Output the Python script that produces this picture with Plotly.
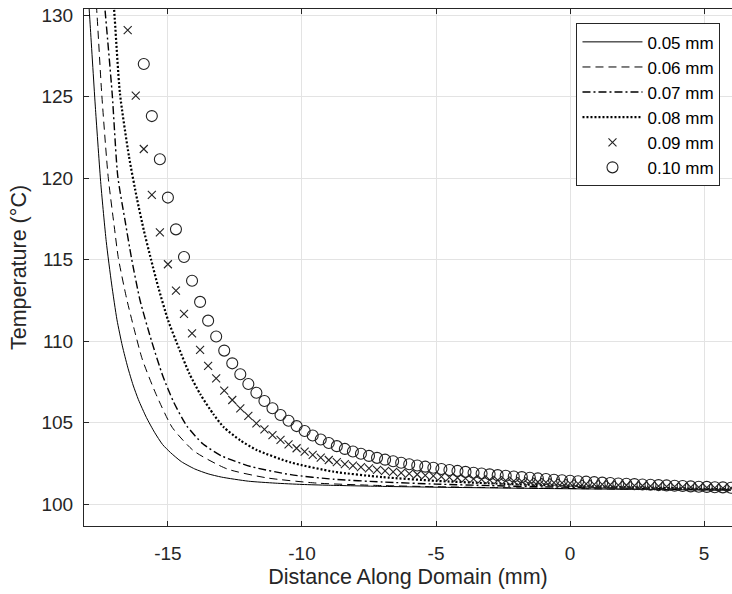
import plotly.graph_objects as go

# Temperature profiles along the domain for six layer thicknesses
labels = ["0.05 mm", "0.06 mm", "0.07 mm", "0.08 mm", "0.09 mm", "0.10 mm"]

x_005 = [-18.1, -17.9, -17.7, -17.5, -17.3, -17.1, -16.9, -16.7, -16.5, -16.3, -16.1, -15.8,
         -15.5, -15.2, -14.9, -14.5, -14.0, -13.5, -13.0, -12.0, -11.0, -10.0, -9.0, -7.0,
         -5.0, -3.0, -1.0, 1.0, 3.0, 5.0, 6.0]
t_005 = [134.6, 129.4, 124.2, 119.6, 116.1, 113.5, 111.3, 109.7, 108.4, 107.3, 106.4, 105.3,
         104.4, 103.65, 103.15, 102.6, 102.15, 101.85, 101.65, 101.4, 101.28, 101.2, 101.15, 101.08,
         101.03, 100.99, 100.95, 100.92, 100.89, 100.86, 100.85]

x_006 = [-17.8, -17.66, -17.47, -17.23, -17.0, -16.85, -16.54, -16.27, -15.96, -15.46, -14.84,
         -14.03, -12.79, -11.3, -9.43, -7.0, -5.0, -3.0, -1.0, 1.0, 3.0, 5.0, 6.0]
t_006 = [133.0, 130.4, 125.2, 120.1, 117.0, 115.1, 112.6, 110.8, 108.9, 106.8, 104.7,
         103.25, 102.15, 101.6, 101.28, 101.13, 101.06, 101.01, 100.97, 100.93, 100.9, 100.87, 100.86]

x_007 = [-17.5, -17.35, -17.08, -16.87, -16.6, -16.36, -16.04, -15.61, -15.2, -14.8, -14.3,
         -13.7, -13.0, -11.91, -10.42, -8.81, -7.0, -5.0, -3.0, -1.0, 1.0, 3.0, 5.0, 6.0]
t_007 = [133.2, 130.4, 125.2, 120.1, 117.4, 115.1, 112.5, 110.0, 107.9, 106.3, 104.8,
         103.7, 102.95, 102.3, 101.8, 101.52, 101.35, 101.22, 101.13, 101.05, 101.0, 100.95, 100.9, 100.88]

x_008 = [-17.15, -17.01, -16.79, -16.45, -16.15, -15.9, -15.63, -15.36, -15.0, -14.6, -14.2,
         -13.78, -13.3, -12.91, -12.3, -11.67, -10.42, -8.81, -7.0, -5.0, -3.0, -1.0, 1.0, 3.0, 5.0, 6.0]
t_008 = [133.0, 130.4, 125.2, 121.3, 118.7, 116.8, 115.0, 113.3, 111.3, 109.6, 108.0,
         106.7, 105.5, 104.7, 103.9, 103.3, 102.55, 101.98, 101.65, 101.42, 101.27, 101.16, 101.07, 101.0, 100.93, 100.9]

x_grid = [-16.5, -16.2, -15.9, -15.6, -15.3, -15.0, -14.7, -14.4, -14.1, -13.8, -13.5, -13.2,
          -12.9, -12.6, -12.3, -12.0, -11.7, -11.4, -11.1, -10.8, -10.5, -10.2, -9.9, -9.6,
          -9.3, -9.0, -8.7, -8.4, -8.1, -7.8, -7.5, -7.2, -6.9, -6.6, -6.3, -6.0, -5.7, -5.4,
          -5.1, -4.8, -4.5, -4.2, -3.9, -3.6, -3.3, -3.0, -2.7, -2.4, -2.1, -1.8, -1.5, -1.2,
          -0.9, -0.6, -0.3, 0.0, 0.3, 0.6, 0.9, 1.2, 1.5, 1.8, 2.1, 2.4, 2.7, 3.0, 3.3, 3.6,
          3.9, 4.2, 4.5, 4.8, 5.1, 5.4, 5.7, 6.0]

t_009 = [129.08, 125.05, 121.78, 118.96, 116.66, 114.71, 113.09, 111.66, 110.47, 109.45, 108.48, 107.71,
         106.95, 106.38, 105.87, 105.40, 104.95, 104.58, 104.23, 103.93, 103.66, 103.42, 103.21, 103.01,
         102.84, 102.70, 102.57, 102.45, 102.35, 102.26, 102.18, 102.10, 102.03, 101.97, 101.91, 101.86,
         101.81, 101.76, 101.72, 101.68, 101.64, 101.61, 101.57, 101.54, 101.51, 101.48, 101.46, 101.43,
         101.41, 101.39, 101.37, 101.35, 101.33, 101.31, 101.29, 101.27, 101.25, 101.23, 101.21, 101.20,
         101.18, 101.16, 101.15, 101.13, 101.12, 101.10, 101.09, 101.07, 101.06, 101.05, 101.03, 101.02,
         101.01, 100.99, 100.98, 100.97]

t_010 = [None, None, 127.0, 123.8, 121.15, 118.8, 116.85, 115.15, 113.7, 112.4, 111.25, 110.28,
         109.41, 108.63, 107.96, 107.36, 106.83, 106.32, 105.87, 105.46, 105.11, 104.78, 104.48, 104.2,
         103.96, 103.74, 103.55, 103.38, 103.22, 103.08, 102.95, 102.83, 102.72, 102.62, 102.53, 102.44,
         102.36, 102.29, 102.22, 102.15, 102.09, 102.03, 101.97, 101.92, 101.87, 101.82, 101.77, 101.73,
         101.69, 101.65, 101.61, 101.57, 101.53, 101.49, 101.46, 101.43, 101.40, 101.37, 101.34, 101.31,
         101.29, 101.26, 101.24, 101.22, 101.20, 101.18, 101.16, 101.14, 101.12, 101.10, 101.08, 101.06,
         101.05, 101.03, 101.02, 101.00]

x_ticks = [-15, -10, -5, 0, 5]
y_ticks = [100, 105, 110, 115, 120, 125, 130]

ink = "#262626"
mark = "#222222"
black = "#000000"
family = "Liberation Sans, Arial, sans-serif"

fig = go.Figure()

line_specs = [
    (x_005, t_005, dict(color=black, width=1.0, dash="solid")),
    (x_006, t_006, dict(color=black, width=1.0, dash="8px,5px")),
    (x_007, t_007, dict(color=black, width=1.4, dash="8px,3px,2px,3px")),
    (x_008, t_008, dict(color=black, width=2.2, dash="2px,2px")),
]
for i, (xs, ys, ln) in enumerate(line_specs):
    fig.add_trace(go.Scatter(x=xs, y=ys, mode="lines", name=labels[i],
                             line=dict(shape="spline", smoothing=0.6, **ln),
                             legendgroup=labels[i]))

fig.add_trace(go.Scatter(x=x_grid, y=t_009, mode="markers", name=labels[4],
                         marker=dict(symbol="x-thin-open", size=8, color=mark,
                                     line=dict(color=mark, width=1.1)),
                         legendgroup=labels[4]))
fig.add_trace(go.Scatter(x=x_grid, y=t_010, mode="markers", name=labels[5],
                         marker=dict(symbol="circle-open", size=11, color=mark,
                                     line=dict(color=mark, width=1.1)),
                         legendgroup=labels[5]))

axis_common = dict(
    showline=True, linecolor=ink, linewidth=1,
    ticks="inside", ticklen=5, tickcolor=ink, tickwidth=1,
    showgrid=True, gridcolor="#e3e3e3", gridwidth=1,
    zeroline=False,
    tickfont=dict(family=family, size=19, color=ink),
)

fig.update_xaxes(range=[-18.13, 6.04], tickvals=x_ticks, ticktext=[str(v) for v in x_ticks],
                 mirror="ticks", ticklabelstandoff=10,
                 title=dict(text="Distance Along Domain (mm)", standoff=6,
                            font=dict(family=family, size=21.5, color=ink)),
                 **axis_common)
fig.update_yaxes(range=[98.65, 130.37], tickvals=y_ticks, ticktext=[str(v) for v in y_ticks],
                 mirror=False, ticklabelstandoff=6,
                 title=dict(text="Temperature (°C)", standoff=8,
                            font=dict(family=family, size=21.5, color=ink)),
                 **axis_common)

fig.update_layout(
    width=732, height=594,
    margin=dict(l=84, r=0, t=9, b=68),
    paper_bgcolor="white", plot_bgcolor="white",
    showlegend=True,
    legend=dict(x=0.760, y=0.9723, xanchor="left", yanchor="top",
                bgcolor="white", bordercolor=ink, borderwidth=1,
                font=dict(family=family, size=17, color=black),
                itemwidth=60, tracegroupgap=0),
)

fig.write_html("out.html")
